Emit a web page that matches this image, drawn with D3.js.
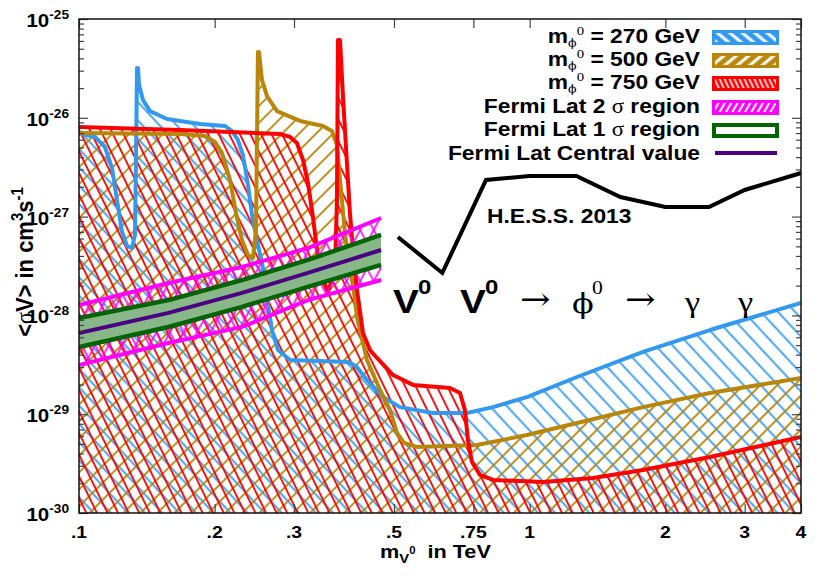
<!DOCTYPE html>
<html lang="en">
<head>
<meta charset="UTF-8">
<title>V0 V0 to phi0 to gamma gamma</title>
<script src="https://d3js.org/d3.v7.min.js"></script>
<style>
  body { margin: 0; background: #ffffff; }
  svg text { font-family: "Liberation Sans", Arial, sans-serif; font-weight: bold; fill: #000; }
  svg text .serif, svg text.serif { font-family: "Liberation Serif", "Times New Roman", serif; font-weight: normal; }
  svg text .sym, svg text.sym { font-family: "DejaVu Serif", serif; font-weight: normal; }
</style>
</head>
<body>
<svg id="chart" width="830" height="581"></svg>
<script>
// masses in TeV, <sigma v> in cm^3 s^-1
const m270X = [0.1, 0.1085, 0.1142, 0.1184, 0.1214, 0.1246, 0.1278, 0.1311, 0.1331, 0.1338, 0.1345, 0.1352, 0.1359, 0.1387, 0.1437, 0.1568, 0.1855, 0.2109, 0.2185, 0.2253, 0.2311, 0.2371, 0.2420, 0.2483, 0.2560, 0.2627, 0.2681, 0.2764, 0.2939, 0.3953, 0.4117, 0.4355, 0.4727, 0.5155, 0.610, 0.726, 0.829, 0.986, 1.274, 1.784, 2.512, 4.0];
const m270Y = [7.0e-27, 6.4e-27, 5.06e-27, 3.1e-27, 1.47e-27, 6.98e-28, 5.04e-28, 4.81e-28, 6.52e-28, 3.74e-27, 3.19e-26, 3.19e-26, 2.15e-26, 1.51e-26, 1.17e-26, 9.72e-27, 8.65e-27, 8.26e-27, 7.35e-27, 5.96e-27, 4.2e-27, 2.09e-27, 1.04e-27, 5.79e-28, 3.02e-28, 1.27e-28, 7.11e-29, 4.47e-29, 3.54e-29, 3.37e-29, 3.08e-29, 2.22e-29, 1.49e-29, 1.18e-29, 1.03e-29, 1.03e-29, 1.18e-29, 1.49e-29, 2.38e-29, 4.27e-29, 7.11e-29, 1.34e-28];

const m500X = [0.1, 0.1675, 0.1904, 0.2004, 0.2076, 0.2163, 0.2230, 0.2299, 0.2371, 0.2432, 0.2470, 0.2483, 0.2495, 0.2508, 0.2547, 0.2613, 0.2750, 0.3093, 0.3478, 0.3641, 0.3736, 0.3795, 0.3892, 0.3973, 0.4055, 0.4139, 0.4355, 0.4655, 0.4898, 0.5077, 0.5261, 0.5623, 0.764, 0.986, 1.274, 1.784, 2.512, 4.0];
const m500Y = [7.0e-27, 6.85e-27, 6.55e-27, 5.69e-27, 4.41e-27, 2.35e-27, 1.09e-27, 5.79e-28, 4.08e-28, 3.81e-28, 7.31e-28, 5.96e-27, 4.63e-26, 4.63e-26, 2.42e-26, 1.66e-26, 1.17e-26, 9.29e-27, 8.26e-27, 7.35e-27, 5.31e-27, 2.35e-27, 6.82e-28, 3.24e-28, 2.03e-28, 9.64e-29, 3.54e-29, 1.76e-29, 1.10e-29, 6.46e-30, 5.12e-30, 4.66e-30, 4.88e-30, 6.15e-30, 8.15e-30, 1.18e-29, 1.64e-29, 2.32e-29];

const m750X = [0.1, 0.1675, 0.2793, 0.2939, 0.3045, 0.3141, 0.3222, 0.3305, 0.3374, 0.3443, 0.3568, 0.3698, 0.3736, 0.3755, 0.3795, 0.3853, 0.3931, 0.3992, 0.4055, 0.4139, 0.4267, 0.4422, 0.4583, 0.4975, 0.5509, 0.6656, 0.7006, 0.7183, 0.7295, 0.7447, 0.7757, 0.829, 1.07, 1.382, 1.784, 2.512, 4.0];
const m750Y = [8.07e-27, 7.52e-27, 6.85e-27, 6.4e-27, 5.56e-27, 3.74e-27, 2.19e-27, 9.91e-28, 4.59e-28, 2.56e-28, 1.73e-28, 2.88e-28, 1.47e-27, 6.13e-26, 6.13e-26, 1.63e-26, 3.49e-27, 1.09e-27, 4.59e-28, 1.81e-28, 6.64e-29, 4.47e-29, 3.71e-29, 2.49e-29, 1.98e-29, 1.84e-29, 1.64e-29, 1.10e-29, 5.48e-30, 3.28e-30, 2.43e-30, 2.16e-30, 2.06e-30, 2.26e-30, 2.72e-30, 3.69e-30, 5.87e-30];

const fermiX = [0.1, 0.158, 0.23, 0.322, 0.468];
const fermi2Up = [1.27e-28, 2.13e-28, 3.09e-28, 4.81e-28, 9.68e-28];
const fermi2Lo = [3.15e-29, 5.26e-29, 7.64e-29, 1.43e-28, 2.28e-28];
const fermi1Up = [9.42e-29, 1.43e-28, 2.28e-28, 3.64e-28, 6.52e-28];
const fermi1Lo = [4.79e-29, 7.64e-29, 1.22e-28, 1.94e-28, 3.24e-28];
const fermiCentral = [6.64e-29, 1.06e-28, 1.69e-28, 2.69e-28, 4.59e-28];

const hessX = [0.51, 0.64, 0.8, 1.0, 1.27, 1.59, 2.0, 2.5, 3.0, 4.0];
const hessY = [6.22e-28, 2.69e-28, 2.35e-27, 2.58e-27, 2.58e-27, 1.58e-27, 1.25e-27, 1.25e-27, 1.86e-27, 2.76e-27];

const xTickValues = [0.1, 0.2, 0.3, 0.5, 0.75, 1, 2, 3, 4];
const xTickLabels = [".1", ".2", ".3", ".5", ".75", "1", "2", "3", "4"];
const yTickValues = [1e-30, 1e-29, 1e-28, 1e-27, 1e-26, 1e-25];
const yTickExps = ["-30", "-29", "-28", "-27", "-26", "-25"];

const massLabels = ["270", "500", "750"];
const fermiLabels = ["Fermi Lat 2", "Fermi Lat 1"];

const colors = {
    m270: "#3399ee",
    m500: "#b8860b",
    m750: "#ff0000",
    fermi2: "#ff00ff",
    fermi1: "#006400",
    fermi1Fill: "#88b888",
    central: "#4b0082"
};

const SX = 1.14; // text in the picture is a bit wider than the font

const svg = d3.select("#chart");
const plotL = 79, plotR = 801, plotT = 19, plotB = 513;

const x = d3.scaleLog().domain([0.1, 4]).range([plotL, plotR]);
const y = d3.scaleLog().domain([1e-30, 1e-25]).range([plotB, plotT]);

const defs = svg.append("defs");
defs.append("clipPath").attr("id", "plotClip")
    .append("rect").attr("x", plotL).attr("y", plotT)
    .attr("width", plotR - plotL).attr("height", plotB - plotT);

// hatch pattern: lines at `angle` degrees from horizontal, "\" or "/"
function hatch(id, color, angle, gap, width, dir, bg) {
    const rot = dir === "\\" ? -(90 - angle) : (90 - angle);
    const p = defs.append("pattern").attr("id", id)
        .attr("patternUnits", "userSpaceOnUse")
        .attr("width", gap).attr("height", gap)
        .attr("patternTransform", `rotate(${rot})`);
    if (bg) p.append("rect").attr("width", gap).attr("height", gap).attr("fill", bg);
    p.append("line").attr("x1", gap / 2).attr("y1", -1).attr("x2", gap / 2).attr("y2", gap + 1)
        .attr("stroke", color).attr("stroke-width", width);
}

hatch("h270", colors.m270, 47, 12.5, 1.8, "\\");
hatch("h500", colors.m500, 45, 12, 1.8, "/");
hatch("h750", colors.m750, 64, 9.5, 1.8, "\\");
hatch("hF2a", colors.fermi2, 62, 12, 1.6, "/");
hatch("hF2b", colors.fermi2, 62, 12, 1.6, "\\");
// legend swatch patterns (white stripes on colour)
hatch("k270", "#fff", 40, 8, 3, "\\", colors.m270);
hatch("k500", "#fff", 40, 8, 3, "/", colors.m500);
hatch("k750", "#fff", 65, 4.5, 1.6, "\\", colors.m750);
hatch("kF2", "#fff", 60, 5.5, 2, "/", colors.fermi2);

const plot = svg.append("g").attr("clip-path", "url(#plotClip)");

const zip = (xs, ys) => xs.map((v, i) => [v, ys[i]]);
const curves = [
    { key: "m270", data: zip(m270X, m270Y) },
    { key: "m500", data: zip(m500X, m500Y) },
    { key: "m750", data: zip(m750X, m750Y) }
];

const area = d3.area()
    .x(d => x(d[0]))
    .y0(y(1e-30))
    .y1(d => y(d[1]));
const line = d3.line()
    .x(d => x(d[0]))
    .y(d => y(d[1]));

// hatched exclusion regions
curves.forEach(c => {
    plot.append("path").datum(c.data)
        .attr("d", area)
        .attr("fill", `url(#h${c.key.slice(1)})`)
        .attr("stroke", "none");
});
// their boundaries
curves.forEach(c => {
    plot.append("path").datum(c.data)
        .attr("d", line)
        .attr("fill", "none")
        .attr("stroke", colors[c.key])
        .attr("stroke-width", 4)
        .attr("stroke-linejoin", "round");
});

// Fermi bands
const band = d3.area()
    .x(d => x(d[0]))
    .y0(d => y(d[1]))
    .y1(d => y(d[2]));
const f2 = fermiX.map((v, i) => [v, fermi2Lo[i], fermi2Up[i]]);
const f1 = fermiX.map((v, i) => [v, fermi1Lo[i], fermi1Up[i]]);
plot.append("path").datum(f2).attr("d", band).attr("fill", "url(#hF2a)");
plot.append("path").datum(f2).attr("d", band).attr("fill", "url(#hF2b)");
plot.append("path").datum(f1).attr("d", band).attr("fill", colors.fermi1Fill);

[fermi2Up, fermi2Lo].forEach(arr => {
    plot.append("path").datum(zip(fermiX, arr)).attr("d", line)
        .attr("fill", "none").attr("stroke", colors.fermi2).attr("stroke-width", 4);
});
[fermi1Up, fermi1Lo].forEach(arr => {
    plot.append("path").datum(zip(fermiX, arr)).attr("d", line)
        .attr("fill", "none").attr("stroke", colors.fermi1).attr("stroke-width", 4.5);
});
plot.append("path").datum(zip(fermiX, fermiCentral)).attr("d", line)
    .attr("fill", "none").attr("stroke", colors.central).attr("stroke-width", 4);

// H.E.S.S. limit
plot.append("path").datum(zip(hessX, hessY)).attr("d", line)
    .attr("fill", "none").attr("stroke", "#000").attr("stroke-width", 4)
    .attr("stroke-linejoin", "miter");

// axes ticks (inward)
const tickColor = "#444";
function ticks(axis, tx, ty) {
    const g = svg.append("g").attr("transform", `translate(${tx},${ty})`).call(axis);
    g.select(".domain").remove();
    g.selectAll(".tick line").attr("stroke", tickColor).attr("stroke-width", 1.2);
    return g;
}
const minorY = y.ticks().filter(v => !yTickValues.some(t => Math.abs(t - v) / t < 1e-6));
ticks(d3.axisBottom(x).tickValues(xTickValues).tickSize(-9).tickFormat(""), 0, plotB);
ticks(d3.axisTop(x).tickValues(xTickValues).tickSize(-9).tickFormat(""), 0, plotT);
ticks(d3.axisLeft(y).tickValues(yTickValues).tickSize(-9).tickFormat(""), plotL, 0);
ticks(d3.axisLeft(y).tickValues(minorY).tickSize(-5).tickFormat(""), plotL, 0);
ticks(d3.axisRight(y).tickValues(yTickValues).tickSize(-9).tickFormat(""), plotR, 0);
ticks(d3.axisRight(y).tickValues(minorY).tickSize(-5).tickFormat(""), plotR, 0);

svg.append("rect").attr("x", plotL).attr("y", plotT)
    .attr("width", plotR - plotL).attr("height", plotB - plotT)
    .attr("fill", "none").attr("stroke", "#111").attr("stroke-width", 1.5);

// text helper, stretched horizontally
function textAt(tx, ty, anchor, sx) {
    return svg.append("g")
        .attr("transform", `translate(${tx},${ty}) scale(${sx || SX},1)`)
        .append("text").attr("text-anchor", anchor || "start");
}

// tick labels
yTickValues.forEach((v, i) => {
    const t = textAt(69, y(v) + 8, "end");
    t.append("tspan").attr("font-size", 18).text("10");
    t.append("tspan").attr("font-size", 12).attr("dy", -8).text(yTickExps[i]);
});
xTickValues.forEach((v, i) => {
    textAt(x(v), 538, "middle").attr("font-size", 17).text(xTickLabels[i]);
});

// axis titles
const xt = textAt(380, 558, "start");
xt.append("tspan").attr("font-size", 19).text("m");
xt.append("tspan").attr("font-size", 13).attr("dy", 5).text("V");
xt.append("tspan").attr("font-size", 10).attr("dy", -9).text("0");
xt.append("tspan").attr("font-size", 19).attr("dy", 4).text("\u00a0\u00a0in TeV");

const yt = svg.append("g").attr("transform", "translate(33,262) scale(1.1,1) rotate(-90)")
    .append("text").attr("text-anchor", "middle").attr("font-size", 22);
yt.append("tspan").text("<");
yt.append("tspan").attr("class", "serif").text("σ");
yt.append("tspan").text("V> in cm");
yt.append("tspan").attr("font-size", 15).attr("dy", -9).text("3");
yt.append("tspan").attr("dy", 9).text("s");
yt.append("tspan").attr("font-size", 15).attr("dy", -9).text("-1");

// process label
function bigV(px) {
    textAt(px, 313, "start").attr("font-size", 34).text("V");
    textAt(px + 25, 294, "start").attr("font-size", 21).text("0");
}
bigV(393);
bigV(460);
textAt(520, 310, "start").attr("class", "sym").attr("font-size", 32).text("→");
textAt(572, 313, "start").attr("class", "sym").attr("font-size", 28).text("ϕ");
textAt(592, 294, "start").attr("class", "serif").attr("font-size", 19).text("0");
textAt(625, 310, "start").attr("class", "sym").attr("font-size", 32).text("→");
textAt(685, 312, "start").attr("class", "serif").attr("font-size", 30).text("γ");
textAt(738, 312, "start").attr("class", "serif").attr("font-size", 30).text("γ");

textAt(487, 223, "start").attr("font-size", 20).text("H.E.S.S. 2013");

// legend
const rowY = [43, 66, 89, 113, 136, 160];
const swX = 712, swW = 67, swH = 15;
massLabels.forEach((m, i) => {
    const t = textAt(700, rowY[i], "end");
    t.append("tspan").attr("font-size", 20).text("m");
    t.append("tspan").attr("class", "sym").attr("font-size", 11).attr("dy", 4).text("ϕ");
    t.append("tspan").attr("class", "serif").attr("font-size", 13).attr("dy", -12).text("0");
    t.append("tspan").attr("font-size", 20).attr("dy", 8).text(` = ${m} GeV`);
    const key = ["m270", "m500", "m750"][i];
    svg.append("rect").attr("x", swX).attr("y", rowY[i] - 13).attr("width", swW).attr("height", swH)
        .attr("fill", colors[key]);
    svg.append("rect").attr("x", swX + 3).attr("y", rowY[i] - 10).attr("width", swW - 6).attr("height", swH - 6)
        .attr("fill", `url(#k${key.slice(1)})`);
});
fermiLabels.forEach((f, i) => {
    const t = textAt(700, rowY[3 + i], "end").attr("font-size", 20);
    t.append("tspan").text(f + " ");
    t.append("tspan").attr("class", "serif").text("σ");
    t.append("tspan").text(" region");
});
svg.append("rect").attr("x", swX).attr("y", rowY[3] - 13).attr("width", swW).attr("height", swH)
    .attr("fill", colors.fermi2);
svg.append("rect").attr("x", swX + 3).attr("y", rowY[3] - 10).attr("width", swW - 6).attr("height", swH - 6)
    .attr("fill", "url(#kF2)");
svg.append("rect").attr("x", swX + 2).attr("y", rowY[4] - 11).attr("width", swW - 4).attr("height", swH - 4)
    .attr("fill", "#fff").attr("stroke", colors.fermi1).attr("stroke-width", 4);
textAt(700, rowY[5], "end").attr("font-size", 20).text("Fermi Lat Central value");
svg.append("line").attr("x1", 715).attr("x2", 777).attr("y1", rowY[5] - 7).attr("y2", rowY[5] - 7)
    .attr("stroke", colors.central).attr("stroke-width", 4);
</script>
</body>
</html>
